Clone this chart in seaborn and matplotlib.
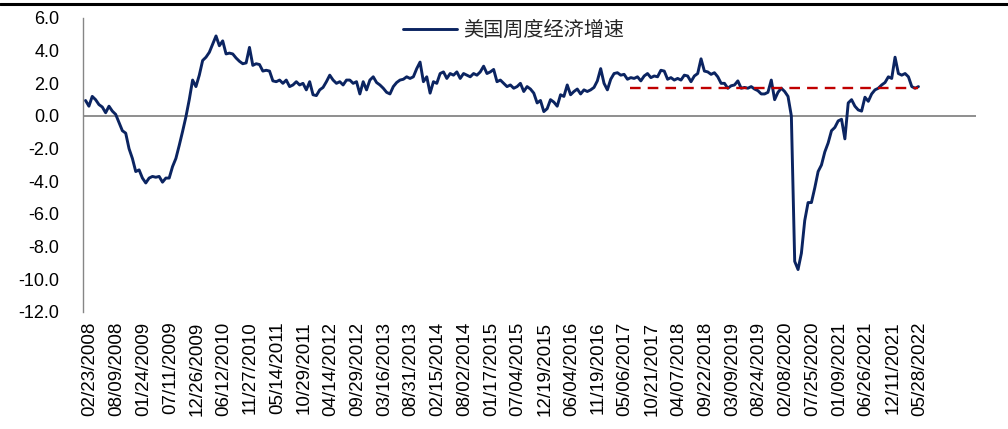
import numpy as np
import pandas as pd
import matplotlib
matplotlib.use("Agg")
import matplotlib.pyplot as plt
from matplotlib.lines import Line2D
import seaborn as sns

# US Weekly Economic Index, sampled every three weeks
series_name = "美国周度经济增速"
first_date = "2008-01-26"
step_days = 21
wei_values = [
    0.95, 0.6, 1.2, 1.0, 0.7, 0.55, 0.2, 0.6, 0.3, 0.1,
    -0.4, -0.9, -1.05, -2.0, -2.6, -3.4, -3.3, -3.8, -4.1, -3.8,
    -3.7, -3.75, -3.7, -4.05, -3.8, -3.8, -3.1, -2.6, -1.8, -0.95,
    -0.05, 1.0, 2.2, 1.8, 2.5, 3.4, 3.6, 3.9, 4.4, 4.9,
    4.3, 4.6, 3.8, 3.85, 3.8, 3.55, 3.35, 3.2, 3.25, 4.2,
    3.1, 3.2, 3.15, 2.75, 2.8, 2.75, 2.15, 2.1, 2.2, 2.0,
    2.2, 1.8, 1.9, 2.1, 1.9, 2.0, 1.6, 2.1, 1.3, 1.25,
    1.6, 1.75, 2.1, 2.5, 2.2, 2.0, 2.1, 1.9, 2.2, 2.2,
    2.0, 2.1, 1.35, 2.1, 1.6, 2.2, 2.4, 2.05, 1.9, 1.7,
    1.45, 1.35, 1.8, 2.05, 2.2, 2.25, 2.4, 2.3, 2.4, 2.9,
    3.3, 2.1, 2.4, 1.4, 2.1, 2.0, 2.6, 2.7, 2.3, 2.6,
    2.5, 2.7, 2.3, 2.6, 2.5, 2.4, 2.6, 2.5, 2.7, 3.05,
    2.6, 2.7, 2.85, 2.1, 2.2, 2.0, 1.8, 1.9, 1.7, 1.8,
    2.0, 1.5, 1.8, 1.65, 1.4, 0.8, 0.95, 0.27, 0.45, 1.0,
    0.85, 0.6, 1.3, 1.2, 1.9, 1.3, 1.5, 1.65, 1.35, 1.6,
    1.5, 1.6, 1.75, 2.15, 2.9, 2.0, 1.6, 2.25, 2.6, 2.65,
    2.5, 2.55, 2.25, 2.35, 2.3, 2.4, 2.15, 2.45, 2.6, 2.35,
    2.45, 2.4, 2.8, 2.75, 2.25, 2.35, 2.2, 2.3, 2.2, 2.5,
    2.45, 2.1, 2.45, 2.6, 3.5, 2.75, 2.7, 2.55, 2.65, 2.4,
    2.0, 2.0, 1.7, 1.85, 1.9, 2.15, 1.7, 1.75, 1.7, 1.8,
    1.65, 1.55, 1.35, 1.35, 1.45, 2.2, 1.0, 1.45, 1.7, 1.5,
    1.2, 0.0, -8.9, -9.4, -8.4, -6.4, -5.3, -5.3, -4.4, -3.4,
    -3.0, -2.2, -1.65, -0.9, -0.7, -0.3, -0.2, -1.4, 0.8, 1.0,
    0.6, 0.37, 0.3, 1.15, 0.9, 1.35, 1.6, 1.7, 1.9, 2.05,
    2.4, 2.3, 3.6, 2.6, 2.5, 2.6, 2.4, 1.8, 1.7, 1.8,
]

# Reference level (dashed)
avg_value = 1.7
avg_start = "2017-06-03"

# Category labels along the x axis
tick_start = "2008-02-23"
tick_step_weeks = 24
tick_count = 32

dates = pd.date_range(first_date, periods=len(wei_values), freq=f"{step_days}D")
df = pd.DataFrame({"date": dates, "wei": wei_values})
avg_df = pd.DataFrame({"date": [pd.Timestamp(avg_start), dates[-1]],
                       "avg": [avg_value, avg_value]})

sns.set_theme(style="white")
plt.rcParams["font.family"] = ["Liberation Sans", "Noto Sans CJK SC"]

W, H = 1008, 429
fig = plt.figure(figsize=(W / 100, H / 100), dpi=100)
fig.patch.set_facecolor("white")
ax = fig.add_axes([83 / W, 1 - 312 / H, (976 - 83) / W, (312 - 18) / H])

grey = "#868686"
ax.axhline(0, color=grey, lw=1.3, zorder=1)

sns.lineplot(data=df, x="date", y="wei", ax=ax, color="#0B2461", lw=2.1,
             label=series_name, zorder=3)
sns.lineplot(data=avg_df, x="date", y="avg", ax=ax, color="#C00000", lw=1.7,
             legend=False, zorder=4)
ax.lines[-1].set_linestyle((0, (4.5, 3.0)))

ax.set_ylim(-12, 6)
yt = np.arange(-12, 7, 2)
ax.set_yticks(yt)
ax.set_yticklabels([f"{v:.1f}" for v in yt])

t0 = pd.Timestamp(tick_start)
xt = pd.date_range(t0, periods=tick_count, freq=f"{7 * tick_step_weeks}D")
ax.set_xticks(xt)
ax.set_xticklabels([d.strftime("%m/%d/%Y") for d in xt], rotation=90)
ax.set_xlim(t0 - pd.Timedelta(weeks=6.3), t0 + pd.Timedelta(weeks=794.6))

for side in ("top", "right", "bottom"):
    ax.spines[side].set_visible(False)
ax.spines["left"].set_color(grey)
ax.spines["left"].set_linewidth(1.0)

ax.tick_params(axis="y", length=5, width=1, color=grey, direction="out",
               pad=12, labelsize=13, labelcolor="black")
ax.tick_params(axis="x", length=0, pad=7, labelsize=13.5, labelcolor="black")
ax.set_xlabel("")
ax.set_ylabel("")
ax.grid(False)

ax.legend(loc="center left", bbox_to_anchor=(0.358, 0.959), frameon=False,
          handlelength=2.7, handletextpad=0.3, borderpad=0, borderaxespad=0,
          prop={"family": "Noto Sans CJK SC", "size": 14.5})

fig.add_artist(Line2D([0, 1], [1 - 3.5 / H] * 2, transform=fig.transFigure,
                      color="black", lw=2.2))

fig.savefig("out.png", dpi=100, facecolor="white")
